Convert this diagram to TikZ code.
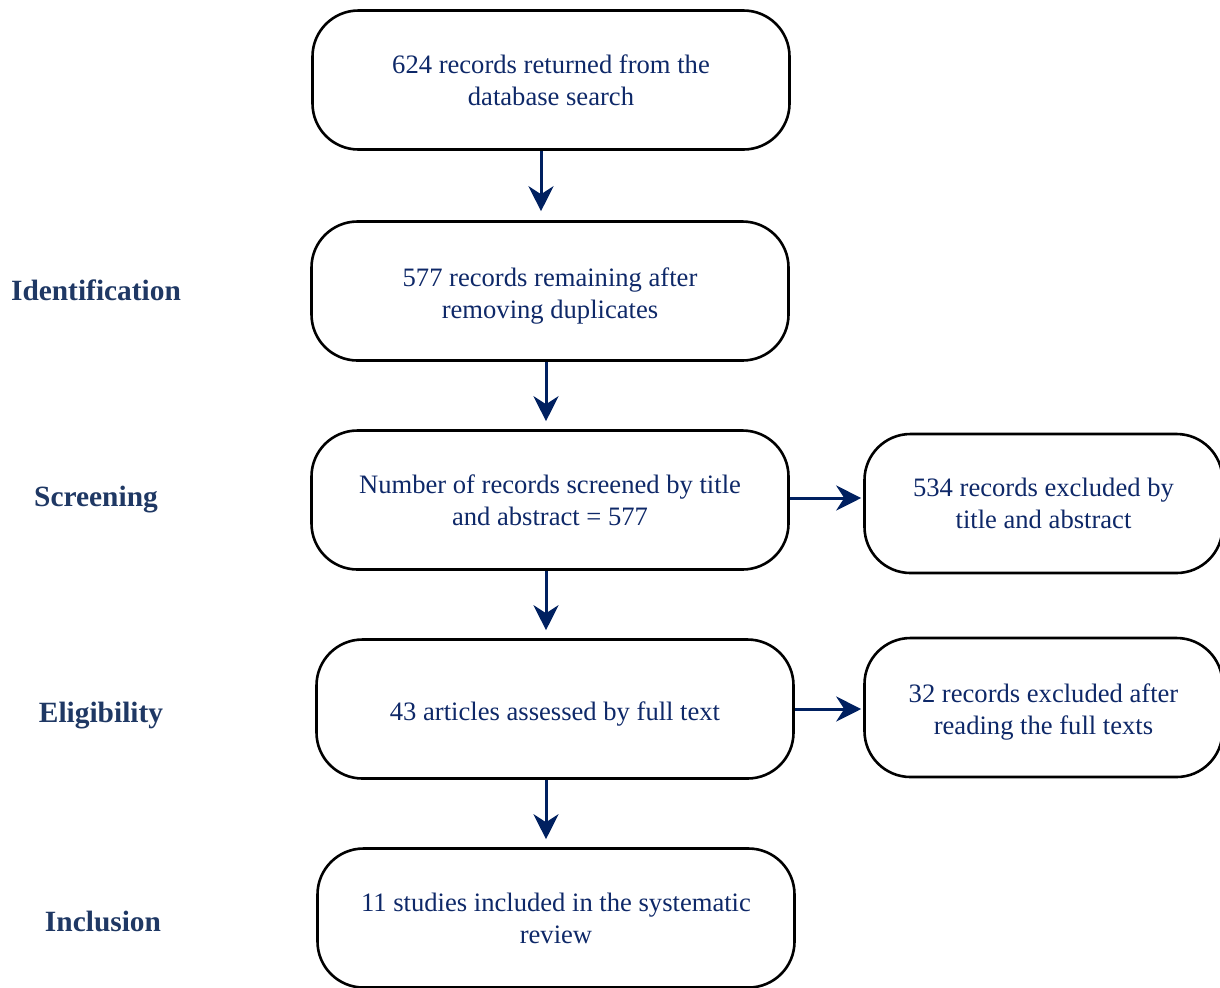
\documentclass[tikz,border=0pt]{standalone}
\usepackage{fontspec}
\setmainfont{Liberation Serif}
\definecolor{navyT}{RGB}{0,32,96}
\definecolor{textT}{RGB}{14,40,104}
\definecolor{stageT}{RGB}{31,56,100}
\usetikzlibrary{arrows.meta}

\begin{document}
\begin{tikzpicture}[x=0.5pt, y=-0.5pt,
    connection/.style={draw=navyT,line width=1.5pt,-{Stealth[length=12.5pt,width=12.5pt,inset=4pt]}},
	processStep/.style={rectangle,rounded corners=23pt,minimum height=69.5pt,minimum width=238.5pt,draw=black,line width=1.3pt,text=textT,align=center,font=\fontsize{13.3}{16}\selectfont},
	stage/.style={text=stageT,font=\fontsize{14.7}{16}\selectfont\bfseries},
]

	\useasboundingbox (0,0) rectangle (1220,987);

	% stages
	\node[stage](st1) at (96,290){Identification};
	\node[stage](st2) at (96,500){Screening};
	\node[stage](st3) at (101,716){Eligibility};
	\node[stage](st4) at (103,921){Inclusion};

	% main column
	\node[processStep](s1) at (551,80){624 records returned from the\\database search};
	\node[processStep,text height=30pt](s2) at (550,291){577 records remaining after\\removing duplicates};
	\node[processStep](s3) at (550,500){Number of records screened by title\\and abstract = 577};
	\node[processStep,text height=14pt](s4) at (555,709){43 articles assessed by full text};
	\node[processStep](s5) at (556,918){11 studies included in the systematic\\review};

	% exclusions
	\node[processStep,minimum width=179pt](x1) at (1043.5,503.5){534 records excluded by\\title and abstract};
	\node[processStep,minimum width=179pt,text height=30pt](x2) at (1043.5,707.5){32 records excluded after\\reading the full texts};

	\draw[connection,shorten >=4.5pt](s1.south -| 541,0)--(s2.north -| 541,0);
	\draw[connection,shorten >=4pt](s2.south -| 546,0)--(s3.north -| 546,0);
	\draw[connection,shorten >=4pt](s3.south -| 546,0)--(s4.north -| 546,0);
	\draw[connection,shorten >=4pt](s4.south -| 546,0)--(s5.north -| 546,0);
	\draw[connection,shorten >=1pt](s3.east |- 0,498)--(x1.west |- 0,498);
	\draw[connection,shorten >=1pt](s4.east |- 0,709)--(x2.west |- 0,709);

\end{tikzpicture}
\end{document}
